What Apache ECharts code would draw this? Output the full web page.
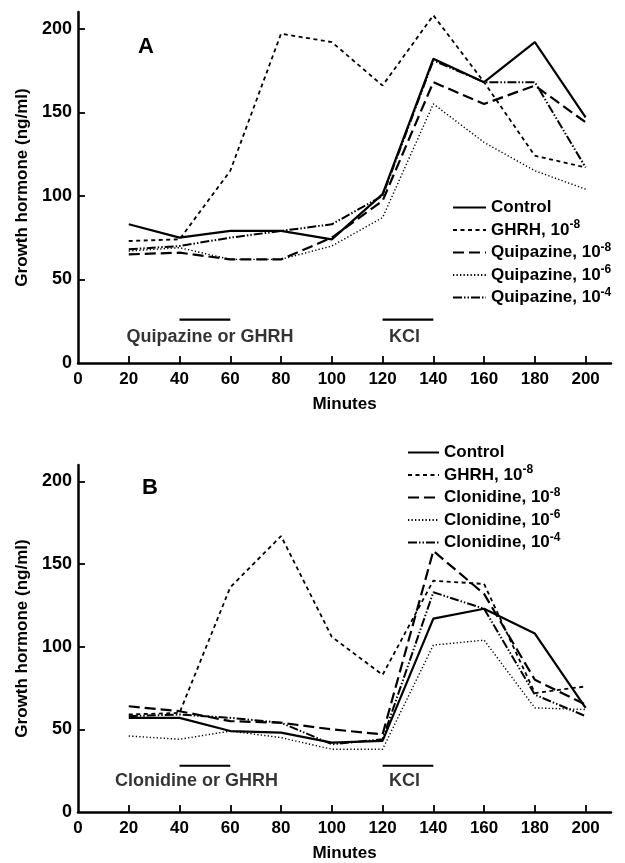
<!DOCTYPE html>
<html><head><meta charset="utf-8">
<script src="https://cdn.jsdelivr.net/npm/echarts@6/dist/echarts.min.js"></script>
<style>html,body{margin:0;padding:0;background:#fff}#c{width:625px;height:863px}</style>
</head><body><div id="c"></div>
<script>
// ---- data ----
const minutes = [20, 40, 60, 80, 100, 120, 140, 160, 180, 200];
const xTickLabels = [0, 20, 40, 60, 80, 100, 120, 140, 160, 180, 200];
const yTickLabels = [0, 50, 100, 150, 200];

// Panel A (quipazine)
const aControl = [83, 75, 79, 79, 74, 101, 182, 168, 192, 147];
const aGHRH    = [73, 74, 115, 197, 192, 166, 208, 168, 124, 117];
const aQuip8   = [65, 66, 62, 62, 75, 97, 168, 155, 166, 144];
const aQuip6   = [67, 69, 62, 62, 70, 87, 155, 132, 115, 104];
const aQuip4   = [68, 70, 75, 79, 83, 100, 181, 168, 168, 117];

// Panel B (clonidine)
const bControl = [57, 57, 49, 48, 42, 43, 117, 123, 108, 63];
const bGHRH    = [59, 60, 136, 167, 106, 83, 140, 138, 72, 76];
const bClon8   = [64, 61, 55, 54, 50, 47, 158, 132, 80, 65];
const bClon6   = [46, 44, 49, 45, 38, 38, 101, 104, 63, 62];
const bClon4   = [58, 59, 57, 54, 41, 44, 133, 123, 71, 58];

// treatment bars and labels
const aBars = [[40, 60, 26], [120, 140, 26]];
const aBarLabels = [[52, 15.6, 'Quipazine or GHRH'], [128.6, 15.6, 'KCl']];
const bBars = [[40, 60, 28], [120, 140, 28]];
const bBarLabels = [[46.7, 18.5, 'Clonidine or GHRH'], [128.6, 18.5, 'KCl']];

const namesA = ['Control', 'GHRH, 10^-8', 'Quipazine, 10^-8', 'Quipazine, 10^-6', 'Quipazine, 10^-4'];
const namesB = ['Control', 'GHRH, 10^-8', 'Clonidine, 10^-8', 'Clonidine, 10^-6', 'Clonidine, 10^-4'];

// ---- styles ----
const FONT = 'Liberation Sans';
const styles = [
  {type: 'solid', width: 2.2},
  {type: [4, 3.5], width: 1.8},
  {type: [11, 5], width: 2.2},
  {type: [1.3, 2.2], width: 1.4},
  {type: [9, 2, 1.5, 2, 1.5, 2], width: 2}
];

function pair(arr) { return minutes.map((m, i) => [m, arr[i]]); }

function xAxis(gi) {
  return {
    type: 'value', gridIndex: gi, min: 0, max: 210,
    name: 'Minutes', nameLocation: 'middle', nameGap: 33,
    nameTextStyle: {fontFamily: FONT, fontWeight: 'bold', fontSize: 17, color: '#000'},
    axisLine: {show: true, lineStyle: {color: '#000', width: 2.5}},
    axisTick: {show: true, inside: true, length: 7, lineStyle: {color: '#000', width: 1.8},
      customValues: xTickLabels.filter(v => v > 0)},
    axisLabel: {customValues: xTickLabels, fontFamily: FONT, fontWeight: 'bold', fontSize: 17, color: '#000', margin: 8},
    splitLine: {show: false}
  };
}
function yAxis(gi) {
  return {
    type: 'value', gridIndex: gi, min: 0, max: 210,
    name: 'Growth hormone (ng/ml)', nameLocation: 'middle', nameGap: 42,
    nameTextStyle: {fontFamily: FONT, fontWeight: 'bold', fontSize: 17, color: '#000'},
    axisLine: {show: true, lineStyle: {color: '#000', width: 2.5}},
    axisTick: {show: true, inside: true, length: 7, lineStyle: {color: '#000', width: 1.8},
      customValues: yTickLabels.filter(v => v > 0)},
    axisLabel: {customValues: yTickLabels, fontFamily: FONT, fontWeight: 'bold', fontSize: 18, color: '#000', margin: 6},
    splitLine: {show: false}
  };
}

const series = [];
function addPanel(gi, names, datas, bars, labels) {
  datas.forEach((d, i) => {
    series.push({
      type: 'line', name: names[i], xAxisIndex: gi, yAxisIndex: gi,
      data: pair(d), symbol: 'none', showSymbol: false,
      lineStyle: {color: '#000', type: styles[i].type, width: styles[i].width},
      itemStyle: {color: '#000'}, z: 3
    });
  });
  bars.forEach(b => {
    series.push({
      type: 'line', name: '_bar', xAxisIndex: gi, yAxisIndex: gi,
      data: [[b[0], b[2]], [b[1], b[2]]], symbol: 'none',
      lineStyle: {color: '#000', width: 2.2, type: 'solid'}
    });
  });
  series.push({
    type: 'scatter', name: '_lbl', xAxisIndex: gi, yAxisIndex: gi,
    data: labels.map(l => ({value: [l[0], l[1]], name: l[2]})), symbolSize: 0,
    label: {show: true, position: 'inside', formatter: p => p.name,
      fontFamily: FONT, fontWeight: 'bold', fontSize: 18, color: '#000'}
  });
}
addPanel(0, namesA, [aControl, aGHRH, aQuip8, aQuip6, aQuip4], aBars, aBarLabels);
addPanel(1, namesB, [bControl, bGHRH, bClon8, bClon6, bClon4], bBars, bBarLabels);

function legend(names, left, top, w) {
  return {
    data: names, orient: 'vertical', left: left, top: top,
    itemWidth: w, itemHeight: 14, itemGap: 3, padding: 0, icon: 'inherit',
    itemStyle: {opacity: 0},
    selectedMode: false,
    formatter: n => n.replace(/\^(-\d)/, '{sup|$1}'),
    textStyle: {fontFamily: FONT, fontWeight: 'bold', fontSize: 17, color: '#000',
      rich: {sup: {fontFamily: FONT, fontWeight: 'bold', fontSize: 12, color: '#000', padding: [0, 0, 10, 0]}}}
  };
}

const chart = echarts.init(document.getElementById('c'), null, {renderer: 'canvas'});
chart.setOption({
  animation: false,
  backgroundColor: '#fff',
  grid: [
    {left: 78, top: 12, width: 533, height: 351},
    {left: 78, top: 465, width: 533, height: 353}
  ],
  xAxis: [xAxis(0), xAxis(1)],
  yAxis: [yAxis(0), yAxis(1)],
  legend: [legend(namesA, 452, 199, 33), legend(namesB, 407, 444, 31)],
  graphic: [
    {type: 'text', left: 138, top: 36, style: {text: 'A', fontFamily: FONT, fontWeight: 'bold', fontSize: 22, fill: '#000'}},
    {type: 'text', left: 142, top: 477, style: {text: 'B', fontFamily: FONT, fontWeight: 'bold', fontSize: 22, fill: '#000'}}
  ],
  series: series
});
</script></body></html>
